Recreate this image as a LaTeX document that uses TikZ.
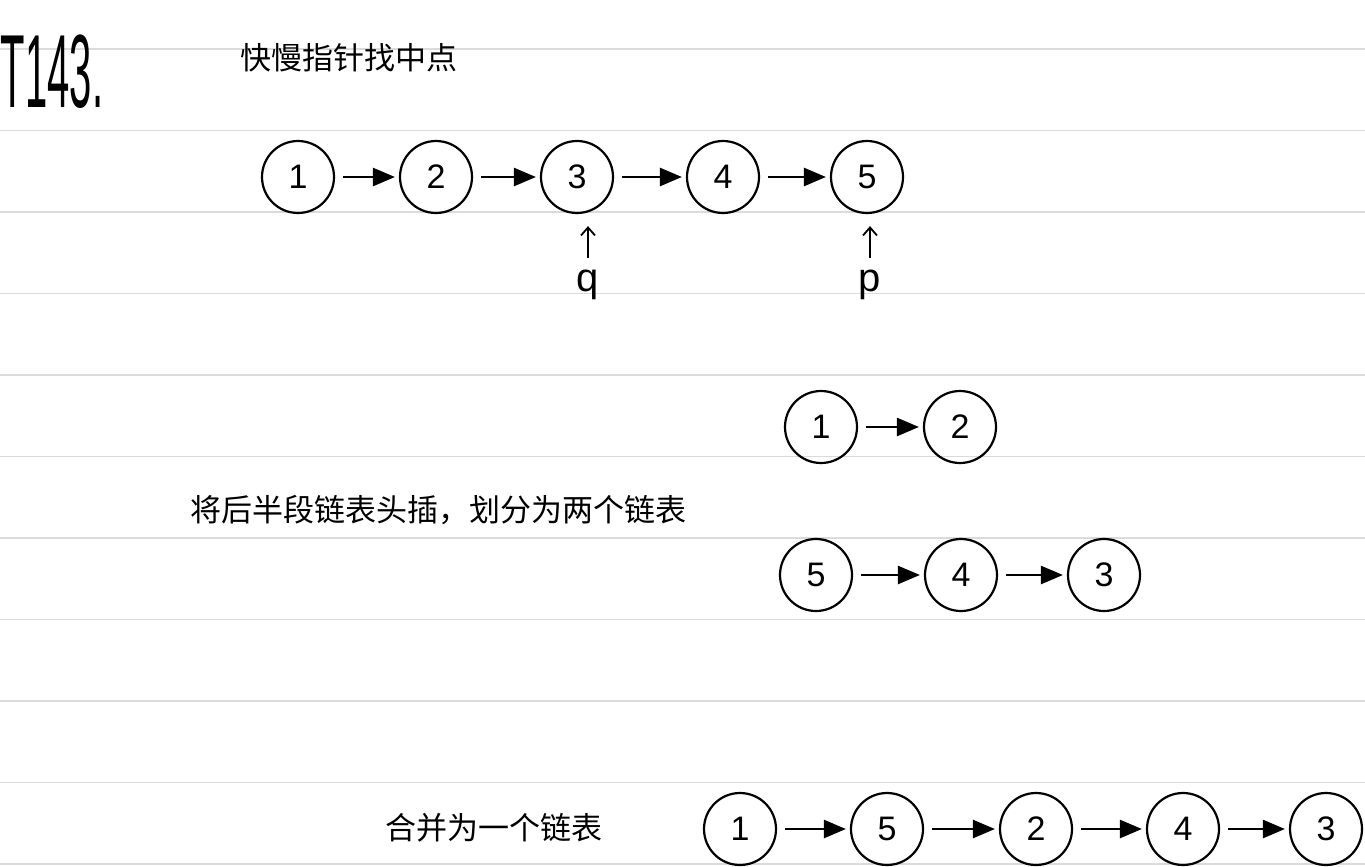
\documentclass[tikz,border=0pt]{standalone}
\usepackage{fontspec}
\setmainfont{Liberation Sans}
\newfontfamily\cjk{Noto Sans CJK SC}
\usetikzlibrary{arrows.meta}

\begin{document}
\begin{tikzpicture}[
  x=0.5pt, y=-0.5pt,
  nd/.style={circle, draw, line width=1.1pt, minimum size=36pt, inner sep=0pt,
             font=\fontsize{17}{17}\selectfont},
  nxt/.style={-{Triangle[length=11pt, width=9pt]}, line width=1.3pt,
              shorten <=4pt, shorten >=2pt},
  ptr/.style={-{Straight Barb[length=4pt, width=7pt]}, line width=0.9pt,
              shorten <=6pt, shorten >=6pt},
  lbl/.style={font=\fontsize{20}{20}\selectfont, inner sep=0pt},
  rule/.style={draw=black!14, line width=0.6pt},
  note/.style={font=\cjk\fontsize{15.5}{15.5}\selectfont, anchor=west, inner sep=0pt}
]
\fill[white] (0,0) rectangle (1365,867);
\useasboundingbox (0,0) rectangle (1365,867);

% ruled paper
\foreach \k in {0,...,10}
  \draw[rule] (0,49+81.5*\k) -- (1365,49+81.5*\k);

% ================= title =================
\node[inner sep=0pt, font=\fontsize{40}{40}\selectfont] (title) at (52,72)
  {\scalebox{0.5}[1.3]{T143.}};
\node[note] (step1) at (240,58) {快慢指针找中点};

% ================= (1) find the middle =================
\node[nd] (a1) at (298,177) {1};
\node[nd] (a2) at (436,177) {2};
\node[nd] (a3) at (577,177) {3};
\node[nd] (a4) at (723,177) {4};
\node[nd] (a5) at (867,177) {5};
\draw[nxt] (a1) -- (a2);
\draw[nxt] (a2) -- (a3);
\draw[nxt] (a3) -- (a4);
\draw[nxt] (a4) -- (a5);

\node[lbl] (q) at (588,285) {q};
\node[lbl] (p) at (870,285) {p};
\draw[ptr] (q.north) -- (q.north |- a3.south);
\draw[ptr] (p.north) -- (p.north |- a5.south);

% ================= (2) split into two lists =================
\node[note] (step2) at (190,510) {将后半段链表头插，划分为两个链表};
\node[nd] (b1) at (821,427) {1};
\node[nd] (b2) at (960,427) {2};
\draw[nxt] (b1) -- (b2);

\node[nd] (c5) at (816,575) {5};
\node[nd] (c4) at (961,575) {4};
\node[nd] (c3) at (1104,575) {3};
\draw[nxt] (c5) -- (c4);
\draw[nxt] (c4) -- (c3);

% ================= (3) merge =================
\node[note] (step3) at (385,828) {合并为一个链表};
\node[nd] (d1) at (740,829) {1};
\node[nd] (d5) at (887,829) {5};
\node[nd] (d2) at (1036,829) {2};
\node[nd] (d4) at (1183,829) {4};
\node[nd] (d3) at (1326,829) {3};
\draw[nxt] (d1) -- (d5);
\draw[nxt] (d5) -- (d2);
\draw[nxt] (d2) -- (d4);
\draw[nxt] (d4) -- (d3);

\end{tikzpicture}
\end{document}
